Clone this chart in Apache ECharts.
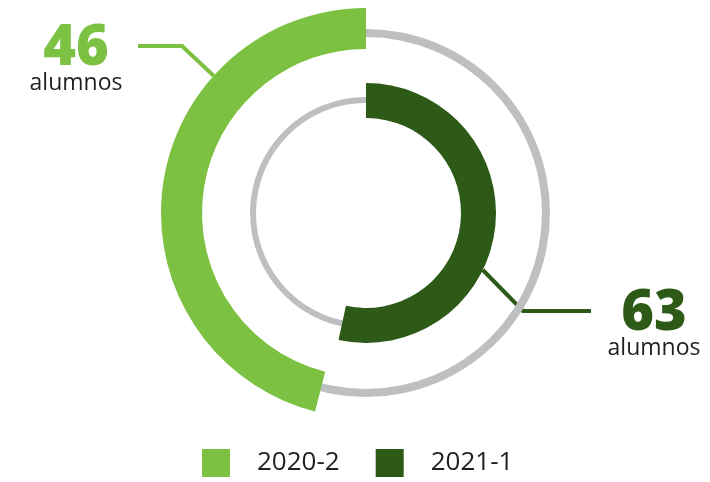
<!DOCTYPE html>
<html>
<head>
<meta charset="utf-8">
<script src="https://cdn.jsdelivr.net/npm/echarts@6/dist/echarts.min.js"></script>
<style>
	html, body { margin: 0; padding: 0; background: #ffffff; }
	#chart { width: 710px; height: 482px; }
</style>
</head>
<body>
<div id="chart"></div>
<script>
// 데이터
var periodos = ['2020-2', '2021-1'];
var alumnos = [46, 63];
var totales = [100, 118];

var colores = ['#7cc142', '#2d5a16'];
var gris = '#bebfc1';
var centro = [366, 213];

// punto sobre el anillo (angulo desde las 12, sentido horario)
function puntoAnillo(ang, r) {
	var rad = ang * Math.PI / 180;
	return [centro[0] + r * Math.sin(rad), centro[1] - r * Math.cos(rad)];
}

function etiqueta(i) {
	return {
		show: true,
		position: 'outside',
		formatter: '{n|{c}}\n{u|alumnos}',
		rich: {
			n: {
				fontFamily: 'Open Sans',
				fontWeight: 800,
				fontSize: 56,
				lineHeight: 44,
				color: colores[i],
				align: 'center'
			},
			u: {
				fontFamily: 'Open Sans',
				fontSize: 23,
				lineHeight: 24,
				color: '#231f20',
				align: 'center'
			}
		}
	};
}

function datosAnillo(i) {
	return [
		{ name: periodos[i], value: alumnos[i], itemStyle: { color: colores[i] }, label: etiqueta(i) },
		{ name: 'resto' + i, value: totales[i] - alumnos[i], itemStyle: { color: 'rgba(0,0,0,0)' }, label: { show: false }, labelLine: { show: false } }
	];
}

var chart = echarts.init(document.getElementById('chart'));

var option = {
	animation: false,
	legend: {
		data: periodos,
		left: 197,
		top: 444,
		itemWidth: 28,
		itemHeight: 28,
		itemGap: 36,
		icon: 'rect',
		selectedMode: false,
		textStyle: {
			fontFamily: 'Open Sans',
			fontSize: 26,
			color: '#231f20',
			padding: [0, 0, 0, 22]
		}
	},
	series: [{
		type: 'pie',
		silent: true,
		center: centro,
		radius: [176, 184],
		label: { show: false },
		labelLine: { show: false },
		itemStyle: { color: gris },
		data: [{ name: 'fondo0', value: 1 }]
	},
	{
		type: 'pie',
		silent: true,
		center: centro,
		radius: [110, 116],
		label: { show: false },
		labelLine: { show: false },
		itemStyle: { color: gris },
		data: [{ name: 'fondo1', value: 1 }]
	},
	{
		type: 'pie',
		silent: true,
		center: centro,
		radius: [164, 205],
		startAngle: 90,
		clockwise: false,
		avoidLabelOverlap: false,
		labelLine: {
			show: true,
			lineStyle: { color: colores[0], width: 4 }
		},
		labelLayout: function (p) {
			if (p.dataIndex !== 0) return;
			return {
				x: 76,
				y: 61,
				align: 'center',
				verticalAlign: 'middle',
				labelLinePoints: [puntoAnillo(-48, 205), [182, 46], [138, 46]]
			};
		},
		data: datosAnillo(0)
	},
	{
		type: 'pie',
		silent: true,
		center: centro,
		radius: [95, 130],
		startAngle: 90,
		clockwise: true,
		avoidLabelOverlap: false,
		labelLine: {
			show: true,
			lineStyle: { color: colores[1], width: 4 }
		},
		labelLayout: function (p) {
			if (p.dataIndex !== 0) return;
			return {
				x: 654,
				y: 326,
				align: 'center',
				verticalAlign: 'middle',
				labelLinePoints: [puntoAnillo(116, 130), [523, 311], [591, 311]]
			};
		},
		data: datosAnillo(1)
	}]
};

chart.setOption(option);
</script>
</body>
</html>
